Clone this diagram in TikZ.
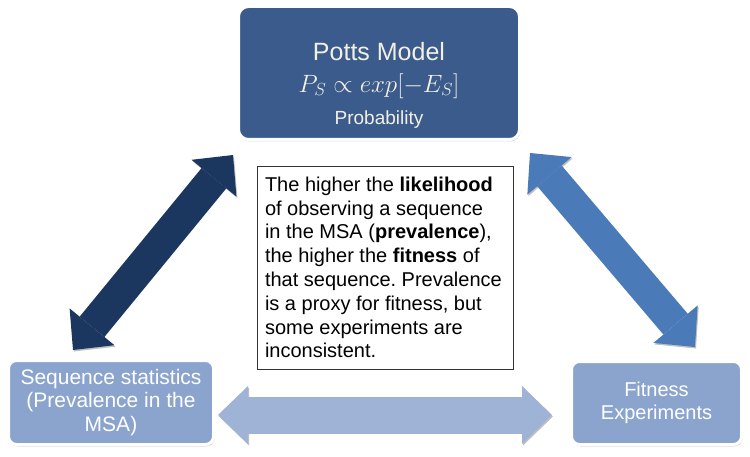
\documentclass[tikz,border=0pt]{standalone}
\usepackage{fix-cm}
\usepackage{fontspec}
\setmainfont{Liberation Sans}
\usetikzlibrary{arrows.meta,shadows,positioning}

\definecolor{pottsblue}{RGB}{58,91,140}
\definecolor{boxblue}{RGB}{138,164,205}
\definecolor{darkarrow}{RGB}{27,54,95}
\definecolor{midarrow}{RGB}{74,122,183}
\definecolor{lightarrow}{RGB}{159,179,214}
\definecolor{creamtext}{RGB}{242,240,228}

\tikzset{
	bluebox/.style={rectangle,rounded corners=8pt,draw=white,line width=3pt,fill=boxblue,text=white,align=center,
		font=\fontsize{20}{23}\selectfont,drop shadow={opacity=0.3,shadow xshift=1pt,shadow yshift=-2pt}},
	blockarrow/.style={line width=32pt,
		{Triangle[length=30pt,width=58pt,line width=0pt]}-{Triangle[length=30pt,width=58pt,line width=0pt]},
		preaction={draw=black!25,transform canvas={xshift=1pt,yshift=-1.5pt}}},
}

\begin{document}
\begin{tikzpicture}[x=1pt,y=-1pt]
		\useasboundingbox (0,0) rectangle (750,457);
		
		\node[bluebox,fill=pottsblue,text=creamtext,rounded corners=10pt,minimum width=281pt,minimum height=133pt,
		font=\fontsize{25}{32}\selectfont] (potts) at (379,73)
		{\rule{0pt}{42pt}Potts Model\\
			{\fontsize{25}{32}\selectfont $P_S \propto exp[-E_S]$}\\
			{\fontsize{19}{32}\selectfont Probability}};
		\node[bluebox,minimum width=205pt,minimum height=84pt,font=\fontsize{21}{23.5}\selectfont] (seq) at (111,402.5)
		{Sequence statistics\\(Prevalence in the\\MSA)};
		\node[bluebox,minimum width=170pt,minimum height=83pt] (fit) at (656.5,403) {Fitness\\Experiments};
		\node[draw=black!80,line width=0.8pt,fill=white,align=flush left,text width=240pt,inner xsep=8pt,minimum height=203pt,
		font=\fontsize{20}{23.8}\selectfont\frenchspacing] (note) at (385,267.5)
		{The higher the \textbf{likelihood}\\
			of observing a sequence\\
			in the MSA (\textbf{prevalence}),\\
			the higher the \textbf{fitness} of\\
			that sequence. Prevalence\\
			is a proxy for fitness, but\\
			some experiments are\\
			inconsistent.};
		
		\coordinate (seq-tip) at (73,350);
		\coordinate (potts-ltip) at (233,155);
		\coordinate (potts-rtip) at (530,153);
		\coordinate (fit-tip) at (695,347);
		\coordinate (seq-rtip) at (218,415);
		\coordinate (fit-ltip) at (552,415);
		
		\draw[blockarrow,darkarrow] (seq-tip) -- (potts-ltip);
		\draw[blockarrow,midarrow] (potts-rtip) -- (fit-tip);
		\draw[blockarrow,lightarrow,line width=37pt] (seq-rtip) -- (fit-ltip);
\end{tikzpicture}
\end{document}
